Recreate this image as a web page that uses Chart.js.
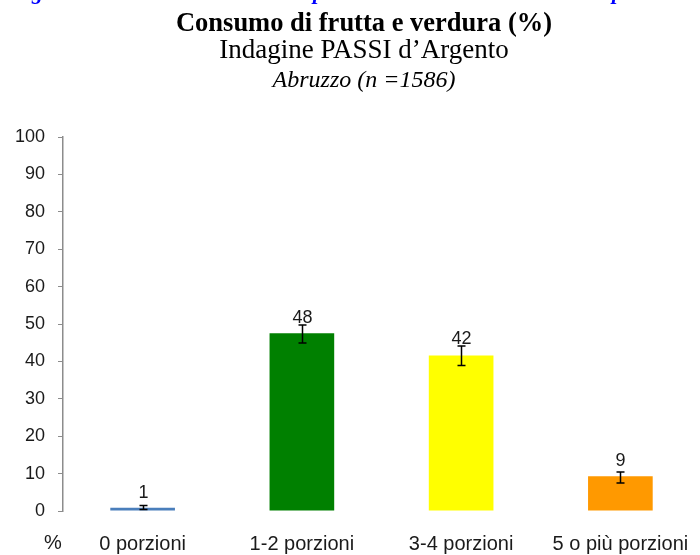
<!DOCTYPE html>
<html>
<head>
<meta charset="utf-8">
<script src="https://cdn.jsdelivr.net/npm/chart.js@4/dist/chart.umd.min.js"></script>
<style>
  html, body { margin: 0; padding: 0; background: #fff; }
  #wrap { width: 700px; height: 555px; position: relative; }
</style>
</head>
<body>
<div id="wrap"><canvas id="chart"></canvas></div>
<script>
const categories = ['0 porzioni', '1-2 porzioni', '3-4 porzioni', '5 o più porzioni'];
const values = [0.9, 47.5, 41.6, 9.3];
const errLow = [0.4, 44.9, 38.9, 7.5];
const errHigh = [1.5, 49.7, 44.1, 10.4];
const valueLabels = ['1', '48', '42', '9'];
const barColors = ['#4A7EBB', '#008000', '#FFFF00', '#FF9900'];
const yTicks = [0, 10, 20, 30, 40, 50, 60, 70, 80, 90, 100];

const titleLines = ['Consumo di frutta e verdura (%)', 'Indagine PASSI d\u2019Argento', 'Abruzzo (n =1586)'];

// titles, error bars, value labels and the "%" axis note
const extras = {
    id: 'extras',
    afterDraw(chart) {
        const ctx = chart.ctx;
        const x = chart.scales.x;
        const y = chart.scales.y;
        ctx.save();

        // clipped blue heading line above the chart
        ctx.fillStyle = '#0000FF';
        ctx.font = 'italic bold 22px "Liberation Serif"';
        ctx.textBaseline = 'alphabetic';
        ctx.textAlign = 'left';
        ctx.fillText('g', 32, -1);
        ctx.fillText('p', 313, -1);
        ctx.fillText('p', 612, -1);

        ctx.fillStyle = '#000';
        ctx.textAlign = 'center';
        ctx.font = 'bold 26.5px "Liberation Serif"';
        ctx.fillText(titleLines[0], 364, 31);
        ctx.font = '27px "Liberation Serif"';
        ctx.fillText(titleLines[1], 364, 58);
        ctx.font = 'italic 24px "Liberation Serif"';
        ctx.fillText(titleLines[2], 364, 87);

        // error bars
        ctx.strokeStyle = '#000';
        ctx.lineWidth = 1.5;
        categories.forEach((c, i) => {
            const cx = Math.round(x.getPixelForValue(i)) + 0.5;
            const top = y.getPixelForValue(errHigh[i]);
            const bot = y.getPixelForValue(errLow[i]);
            ctx.beginPath();
            ctx.moveTo(cx, top); ctx.lineTo(cx, bot);
            ctx.moveTo(cx - 4, top); ctx.lineTo(cx + 4, top);
            ctx.moveTo(cx - 4, bot); ctx.lineTo(cx + 4, bot);
            ctx.stroke();

            // value label above the bar, kept clear of the error cap
            ctx.fillStyle = '#1a1a1a';
            ctx.font = '18px "Liberation Sans"';
            ctx.textBaseline = 'alphabetic';
            const ly = Math.min(y.getPixelForValue(values[i]) - 10, top - 2);
            ctx.fillText(valueLabels[i], cx, ly);
        });

        ctx.font = '20px "Liberation Sans"';
        ctx.textBaseline = 'middle';
        ctx.fillText('%', 53, 543);
        ctx.restore();
    }
};

new Chart(document.getElementById('chart'), {
    type: 'bar',
    data: {
        labels: categories,
        datasets: [{
            data: values,
            backgroundColor: barColors,
            borderWidth: 0,
            barPercentage: 0.406,
            categoryPercentage: 1
        }]
    },
    options: {
        responsive: true,
        maintainAspectRatio: false,
        animation: false,
        layout: { padding: { top: 137, right: -3, left: 0, bottom: 0 } },
        plugins: {
            legend: { display: false },
            tooltip: { enabled: false }
        },
        scales: {
            x: {
                grid: { display: false, drawTicks: false },
                border: { display: false },
                ticks: { color: '#1a1a1a', font: { family: 'Liberation Sans', size: 20 }, padding: 21, maxRotation: 0, autoSkip: false },
                afterFit: s => { s.height = 44; s.paddingLeft = 0; s.paddingRight = 0; }
            },
            y: {
                min: 0, max: 100,
                afterBuildTicks: s => { s.ticks = yTicks.map(v => ({ value: v })); },
                grid: { drawOnChartArea: false, drawTicks: true, tickLength: 5, color: '#8c8c8c' },
                border: { color: '#8c8c8c', width: 1.5 },
                ticks: { color: '#1a1a1a', font: { family: 'Liberation Sans', size: 18 }, padding: 13 },
                afterFit: s => { s.width = 63; }
            }
        }
    },
    plugins: [extras]
});
</script>
</body>
</html>
